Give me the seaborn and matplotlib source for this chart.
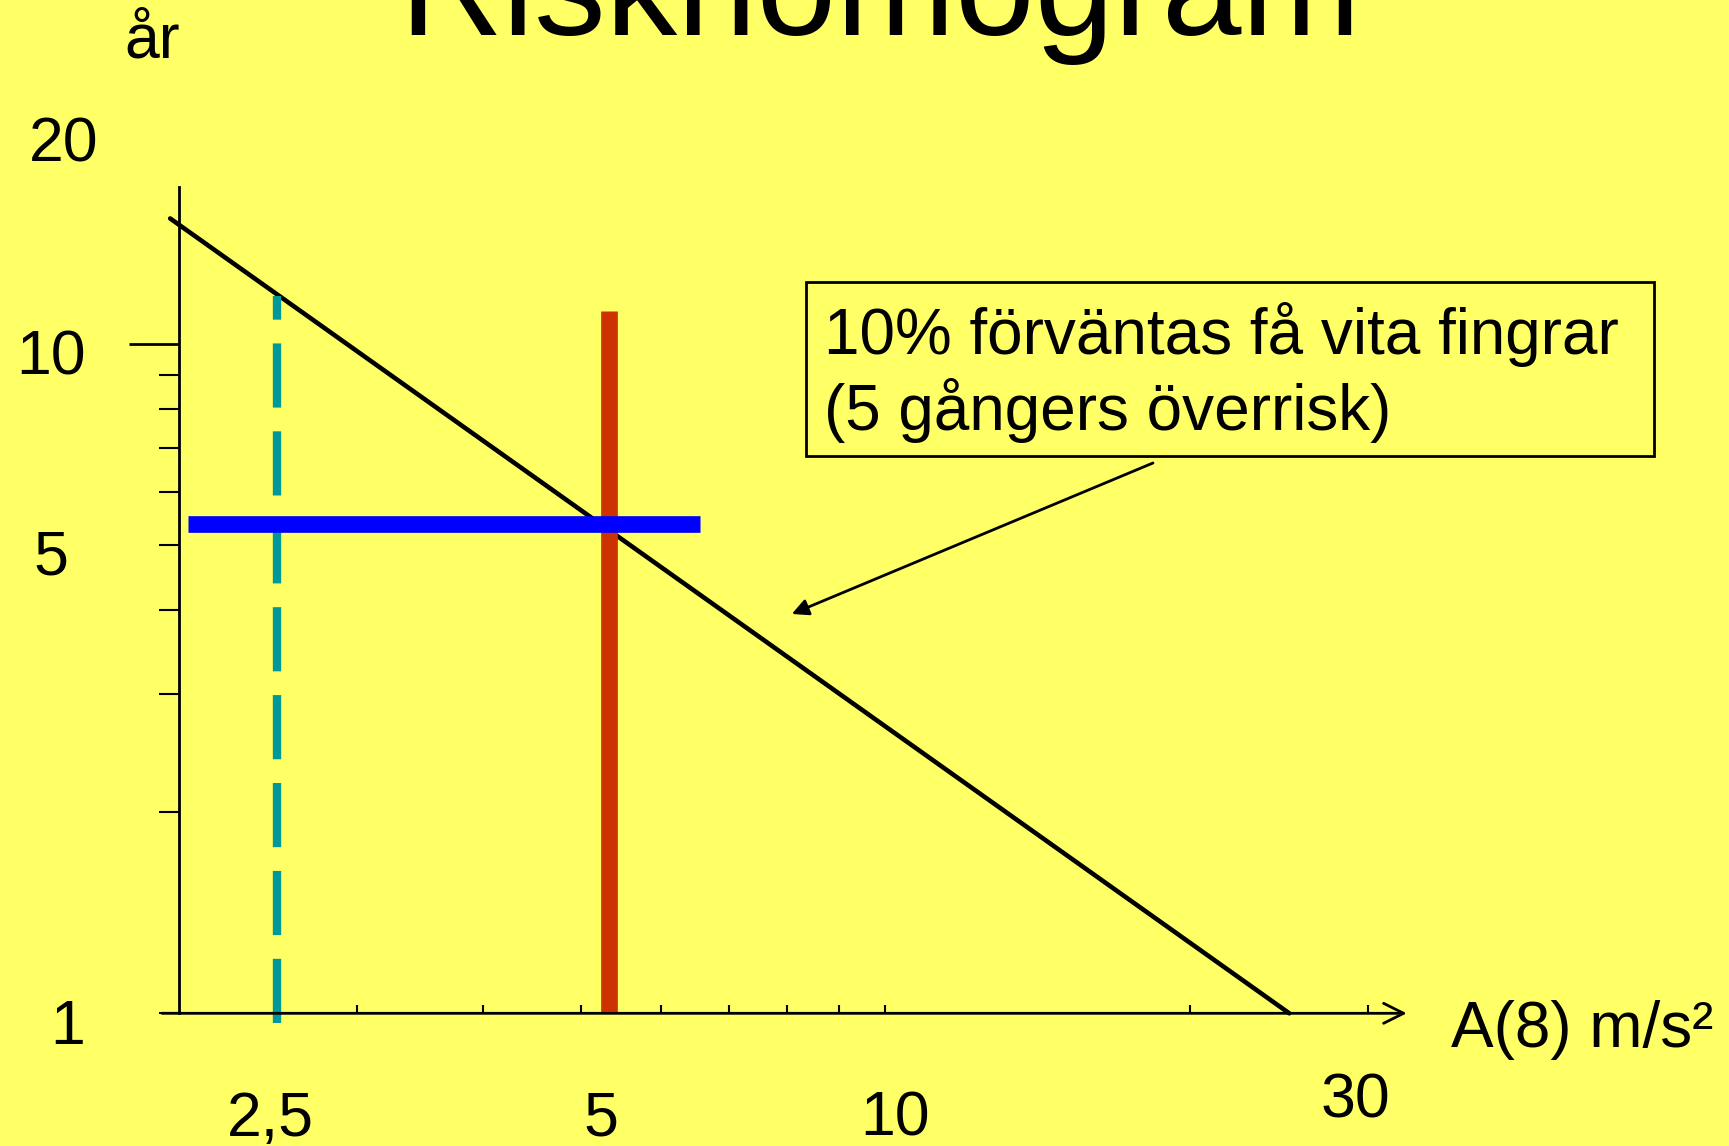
import matplotlib
matplotlib.use("Agg")
import matplotlib.pyplot as plt
import matplotlib.ticker as mticker
import matplotlib.transforms as mtransforms
from matplotlib.patches import Rectangle
import seaborn as sns

# risk line on log-log nomogram: years of exposure vs A(8)
risk_a8 = [1.96, 25.1]
risk_years = [15.4, 1.0]

# action value (dashed teal), limit value (red), reading (blue)
action_a8 = [2.5, 2.5]
action_years = [0.967, 11.8]
limit_a8 = [5.33, 5.33]
limit_years = [1.0, 11.2]
read_a8 = [2.04, 6.56]
read_years = [5.39, 5.39]

# pointer from the note to the risk line
pointer_from = (18.4, 6.64)
pointer_to = (8.08, 3.95)

x_ticks = [3, 4, 5, 6, 7, 8, 9, 10, 20, 30]
x_label_vals = [2.5, 5, 10, 30]
x_labels = ["2,5", "5", "10", "30"]
y_major = [10]
y_minor = [1, 2, 3, 4, 5, 6, 7, 8, 9]
y_label_vals = [20, 10, 5, 1]
y_labels = ["20", "10", "5", "1"]

title = "Risknomogram"
x_title = "A(8) m/s²"
y_title = "år"
note_lines = ["10% förväntas få vita fingrar", "(5 gångers överrisk)"]

YELLOW = "#FFFF66"
TEAL = "#009999"
RED = "#CC3300"
BLUE = "#0000FF"

sns.set_style("white")
plt.rcParams["font.family"] = ["Liberation Sans", "DejaVu Sans"]
plt.rcParams["text.color"] = "black"

fig = plt.figure(figsize=(17.29, 11.46), dpi=100, facecolor=YELLOW)
ax = fig.add_axes([0.10353, 0.11579, 0.71006, 0.72060])
ax.set_facecolor("none")
ax.set_xscale("log")
ax.set_yscale("log")
ax.set_xlim(2.0, 32.8)
ax.set_ylim(1.0, 17.13)

sns.lineplot(x=risk_a8, y=risk_years, color="black", lw=3.3, clip_on=False, ax=ax)
ax.plot(action_a8, action_years, color=TEAL, lw=6, ls=(0, (7.7, 2.85)),
        solid_capstyle="butt", dash_capstyle="butt", clip_on=False)
ax.plot(limit_a8, limit_years, color=RED, lw=12, solid_capstyle="butt")
ax.plot(read_a8, read_years, color=BLUE, lw=12, solid_capstyle="butt")

ax.annotate("", xy=pointer_to, xytext=pointer_from,
            arrowprops=dict(arrowstyle="-|>", lw=2, color="black",
                            mutation_scale=25, shrinkA=0, shrinkB=0))

# axes: left spine plus arrow for x axis
for s in ["top", "right", "bottom"]:
    ax.spines[s].set_visible(False)
ax.spines["left"].set_color("black")
ax.spines["left"].set_linewidth(2)
ax.annotate("", xy=(1.0, 0), xytext=(-0.0138, 0), xycoords="axes fraction",
            arrowprops=dict(arrowstyle="->", lw=2, color="black",
                            mutation_scale=36, shrinkA=0, shrinkB=0))

ax.xaxis.set_major_locator(mticker.FixedLocator(x_ticks))
ax.xaxis.set_minor_locator(mticker.NullLocator())
ax.xaxis.set_major_formatter(mticker.NullFormatter())
ax.yaxis.set_major_locator(mticker.FixedLocator(y_major))
ax.yaxis.set_minor_locator(mticker.FixedLocator(y_minor))
ax.yaxis.set_major_formatter(mticker.NullFormatter())
ax.yaxis.set_minor_formatter(mticker.NullFormatter())
ax.tick_params(axis="x", which="major", direction="in", length=6, width=1.5,
               color="black", bottom=True, top=False)
ax.tick_params(axis="y", which="major", direction="out", length=36, width=2,
               color="black", left=True, right=False)
ax.tick_params(axis="y", which="minor", direction="out", length=14.4, width=1.5,
               color="black", left=True, right=False)

# hand placed tick labels
x_trans = mtransforms.blended_transform_factory(ax.transData, ax.transAxes)
x_offsets = [(-4.8, -88.3), (14.4, -88.3), (6.8, -88.3), (-8.6, -74.7)]
for val, lab, off in zip(x_label_vals, x_labels, x_offsets):
    ax.annotate(lab, xy=(val, 0), xycoords=x_trans, xytext=off,
                textcoords="offset points", ha="center", va="baseline",
                fontsize=45, color="black", annotation_clip=False)

y_trans = mtransforms.blended_transform_factory(ax.transAxes, ax.transData)
y_offsets = [(-82.8, -14.0), (-92.2, -22.3), (-92.2, -21.2), (-79.9, -22.1)]
for val, lab, off in zip(y_label_vals, y_labels, y_offsets):
    ax.annotate(lab, xy=(0, val), xycoords=y_trans, xytext=off,
                textcoords="offset points", ha="center", va="baseline",
                fontsize=45, color="black", annotation_clip=False)

fig.text(0.509, 0.96946, title, ha="center", va="baseline", fontsize=103, color="black")
fig.text(0.0879, 0.9494, y_title, ha="center", va="baseline", fontsize=45, color="black")
fig.text(0.8392, 0.08665, x_title, ha="left", va="baseline", fontsize=46, color="black")

# note box
fig.patches.append(Rectangle((0.46605, 0.60209), 0.49040, 0.15209,
                             transform=fig.transFigure, fill=False,
                             edgecolor="black", lw=2))
fig.text(0.4766, 0.69084, note_lines[0], ha="left", va="baseline", fontsize=46, color="black")
fig.text(0.4766, 0.62478, note_lines[1], ha="left", va="baseline", fontsize=46, color="black")

fig.savefig("out.png", dpi=100, facecolor=YELLOW)
